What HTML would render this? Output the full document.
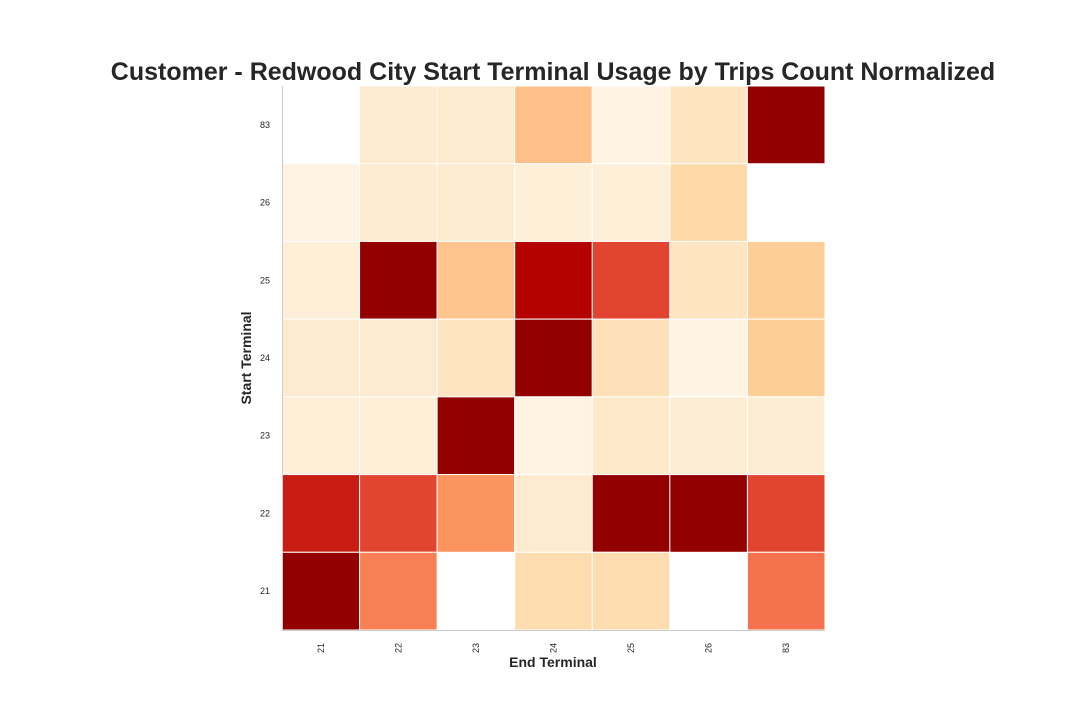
<!DOCTYPE html>
<html><head><meta charset="utf-8"><style>
body{margin:0;background:#fff;font-family:"Liberation Sans",sans-serif}
svg{display:block}
</style></head><body>
<svg id="chart" width="1080" height="720">
<text x="553" y="80" text-anchor="middle" font-size="25" font-weight="bold" fill="#262626">Customer - Redwood City Start Terminal Usage by Trips Count Normalized</text>
<g id="cells"></g>
<line x1="282.5" y1="86" x2="282.5" y2="630.5" stroke="#ccc"/>
<line x1="282" y1="630.5" x2="825" y2="630.5" stroke="#ccc"/>
<g id="ticks" font-size="9" fill="#262626"></g>
<text x="553" y="667" text-anchor="middle" font-size="14" font-weight="bold" fill="#262626">End Terminal</text>
<text transform="translate(251,358) rotate(-90)" text-anchor="middle" font-size="14" font-weight="bold" fill="#262626">Start Terminal</text>
</svg>
<script>
const endTerminals=["21","22","23","24","25","26","83"];
const startTerminals=["83","26","25","24","23","22","21"];
const row83=[null,0.1,0.1,0.35,0.03,0.15,1.0];
const row26=[0.03,0.1,0.1,0.07,0.07,0.22,null];
const row25=[0.07,1.0,0.33,0.87,0.7,0.15,0.28];
const row24=[0.1,0.1,0.15,1.0,0.17,0.03,0.28];
const row23=[0.07,0.07,1.0,0.03,0.12,0.08,0.08];
const row22=[0.8,0.7,0.48,0.1,1.0,1.0,0.7];
const row21=[1.0,0.54,null,0.2,0.2,null,0.58];
const values=[row83,row26,row25,row24,row23,row22,row21];
const NS="http://www.w3.org/2000/svg";
const x0=282,x1=825,y0=86,y1=630;
const cw=(x1-x0)/endTerminals.length, ch=(y1-y0)/startTerminals.length;
function xPos(i){return x0+i*cw;}
function yPos(j){return y0+j*ch;}
const stops=[[255,247,236],[254,232,200],[253,212,158],[253,187,132],[252,141,89],[239,101,72],[215,48,31],[179,0,0],[147,0,0]];
function color(v){v=Math.max(0,Math.min(1,v))*(stops.length-1);const i=Math.min(Math.floor(v),stops.length-2),t=v-i;
const c=stops[i].map((a,k)=>Math.round(a+(stops[i+1][k]-a)*t));return `rgb(${c})`;}
const cells=document.getElementById('cells');
values.forEach((row,j)=>row.forEach((v,i)=>{
  if(v===null)return;
  const r=document.createElementNS(NS,'rect');
  r.setAttribute('x',xPos(i));r.setAttribute('y',yPos(j));
  r.setAttribute('width',cw);r.setAttribute('height',ch);
  r.setAttribute('fill',color(v));r.setAttribute('stroke','#fff');r.setAttribute('stroke-width','1');
  
  
  cells.appendChild(r);
}));
const ticks=document.getElementById('ticks');
endTerminals.forEach((t,i)=>{
  const e=document.createElementNS(NS,'text');
  const cx=xPos(i)+cw/2;
  e.setAttribute('transform',`translate(${cx+3},653) rotate(-90)`);
  e.textContent=t;
  
  
  ticks.appendChild(e);
});
startTerminals.forEach((t,j)=>{
  const e=document.createElementNS(NS,'text');
  e.setAttribute('x',270);e.setAttribute('y',yPos(j)+ch/2+3);
  e.setAttribute('text-anchor','end');
  e.textContent=t;
  
  
  ticks.appendChild(e);
});
</script>
</body></html>
